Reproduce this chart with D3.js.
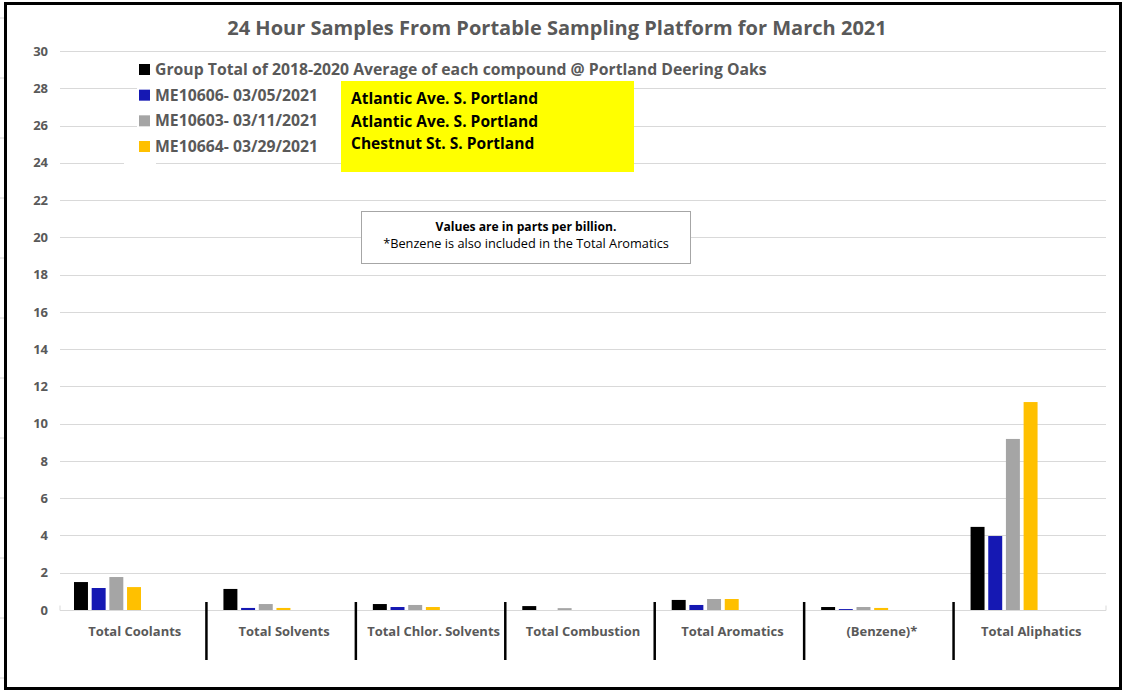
<!DOCTYPE html>
<html>
<head>
<meta charset="utf-8">
<script src="https://cdn.jsdelivr.net/npm/d3@7"></script>
<style>
  html, body { margin: 0; padding: 0; background: #fff; }
  svg { display: block; }
  text { font-family: "Liberation Sans Narrow", "Open Sans", sans-serif; }
</style>
</head>
<body>
<svg id="chart" width="1123" height="696"></svg>
<script>
// ---------- data ----------
const categories = ["Total Coolants", "Total Solvents", "Total Chlor. Solvents", "Total Combustion", "Total Aromatics", "(Benzene)*", "Total Aliphatics"];
const seriesNames = [
  "Group Total of 2018-2020 Average of each compound @ Portland Deering Oaks",
  "ME10606- 03/05/2021",
  "ME10603- 03/11/2021",
  "ME10664- 03/29/2021"
];
const groupAverage = [1.50, 1.13, 0.32, 0.21, 0.54, 0.16, 4.46];
const me10606 = [1.18, 0.11, 0.16, 0.00, 0.27, 0.05, 3.97];
const me10603 = [1.77, 0.32, 0.27, 0.10, 0.59, 0.16, 9.18];
const me10664 = [1.23, 0.11, 0.16, 0.00, 0.59, 0.11, 11.16];
const yTicks = [0, 2, 4, 6, 8, 10, 12, 14, 16, 18, 20, 22, 24, 26, 28, 30];
const siteLabels = ["Atlantic Ave. S. Portland", "Atlantic Ave. S. Portland", "Chestnut St. S. Portland"];
const noteLines = ["Values are in parts per billion.", "*Benzene is also included in the Total Aromatics"];
const titleText = "24 Hour Samples From Portable Sampling Platform for March 2021";
const colors = ["#000000", "#1518b3", "#a5a5a5", "#ffc000"];

const seriesValues = [groupAverage, me10606, me10603, me10664];

// ---------- layout ----------
const svg = d3.select("#chart");
const W = 1123, H = 696;
const plot = { left: 60, right: 1106, top: 51, bottom: 610 };
const textGray = "#595959";

function fit(sel, target) {
  sel.each(function () {
    const fs = parseFloat(d3.select(this).attr("font-size"));
    const w = this.getComputedTextLength();
    if (w > 0) d3.select(this).attr("font-size", (fs * target / w).toFixed(2));
  });
}

svg.append("rect").attr("x", 0).attr("y", 0).attr("width", W).attr("height", H).attr("fill", "#fff");
const cellYs = d3.range(18, 696, 60);
svg.selectAll("line.cell").data(cellYs).join("line")
  .attr("x1", 0).attr("x2", 4).attr("y1", d => d).attr("y2", d => d)
  .attr("stroke", "#d4d4d4").attr("stroke-width", 1);

// scales
const y = d3.scaleLinear().domain([0, 30]).range([plot.bottom, plot.top]);
const x0 = d3.scaleBand().domain(categories).range([plot.left, plot.right]).padding(0);
const x1 = d3.scaleBand().domain(seriesNames).range([14, 81]).paddingInner(0.21).paddingOuter(0);

// gridlines
svg.append("g").selectAll("line").data(yTicks.filter(d => d > 0)).join("line")
  .attr("x1", plot.left).attr("x2", plot.right)
  .attr("y1", d => Math.round(y(d)) + 0.5).attr("y2", d => Math.round(y(d)) + 0.5)
  .attr("stroke", "#d9d9d9").attr("stroke-width", 1);

// y-axis labels
const yAxis = d3.axisLeft(y).tickValues(yTicks).tickSize(0).tickPadding(0);
const yg = svg.append("g").attr("transform", `translate(${plot.left - 12},0)`).call(yAxis);
yg.select(".domain").remove();
yg.selectAll("text")
  .attr("fill", textGray).attr("font-weight", "bold").attr("font-size", 13)
  .style("font-family", "'Liberation Sans Narrow', 'Open Sans', sans-serif");

// bars
const groups = svg.append("g").selectAll("g").data(categories).join("g")
  .attr("transform", d => `translate(${x0(d)},0)`);
groups.selectAll("rect").data((c, i) => seriesValues.map((vals, s) => ({ s, name: seriesNames[s], v: vals[i] })))
  .join("rect")
  .attr("x", d => x1(d.name))
  .attr("width", x1.bandwidth())
  .attr("y", d => y(d.v))
  .attr("height", d => y(0) - y(d.v))
  .attr("fill", d => colors[d.s]);

// category axis
const xAxis = d3.axisBottom(x0).tickSize(0).tickFormat("");
const xg = svg.append("g").attr("transform", `translate(0,${plot.bottom + 0.5})`).call(xAxis);
xg.select(".domain").attr("stroke", "#d9d9d9").attr("d", `M${plot.left},-5V0H${plot.right}V-5`);
xg.selectAll(".tick").remove();

// category labels
const catText = svg.append("g").selectAll("text").data(categories).join("text")
  .attr("x", d => x0(d) + x0.bandwidth() / 2)
  .attr("y", 636)
  .attr("text-anchor", "middle")
  .attr("fill", textGray).attr("font-weight", "bold").attr("font-size", 13)
  .text(d => d);
(function () {
  const ref = catText.filter(d => d === "Total Chlor. Solvents").node();
  const fs = 13 * 133 / ref.getComputedTextLength();
  catText.attr("font-size", fs.toFixed(2));
})();

// separators
svg.append("g").selectAll("line").data(categories.slice(1)).join("line")
  .attr("x1", d => x0(d) - 3).attr("x2", d => x0(d) - 3)
  .attr("y1", 602).attr("y2", 660)
  .attr("stroke", "#000").attr("stroke-width", 2.5);

// title
const title = svg.append("text")
  .attr("x", 557).attr("y", 35).attr("text-anchor", "middle")
  .attr("fill", textGray).attr("font-weight", "bold").attr("font-size", 20)
  .text(titleText);
fit(title, 660);

// legend background
svg.append("rect").attr("x", 137).attr("y", 56).attr("width", 204).attr("height", 100).attr("fill", "#fff");
svg.append("rect").attr("x", 124).attr("y", 156).attr("width", 32).attr("height", 12).attr("fill", "#fff");

// legend
const legY = d3.scalePoint().domain(seriesNames).range([69, 146]);
const leg = svg.append("g").selectAll("g").data(seriesNames).join("g")
  .attr("transform", d => `translate(139,${legY(d)})`);
leg.append("rect").attr("x", 0).attr("y", -5).attr("width", 11).attr("height", 11)
  .attr("fill", (d, i) => colors[i]);
const legText = leg.append("text").attr("x", 16).attr("y", 6)
  .attr("fill", textGray).attr("font-weight", "bold").attr("font-size", 15)
  .text(d => d);
(function () {
  const first = legText.filter((d, i) => i === 0).node();
  const fs = 15 * 612 / first.getComputedTextLength();
  legText.attr("font-size", fs.toFixed(2));
})();

// yellow site box
svg.append("rect").attr("x", 341).attr("y", 81).attr("width", 293).attr("height", 91).attr("fill", "#ffff00");
const siteText = svg.append("g").selectAll("text").data(siteLabels).join("text")
  .attr("x", 351).attr("y", (d, i) => 104 + i * 22.5)
  .attr("fill", "#000").attr("font-weight", "bold").attr("font-size", 16)
  .text(d => d);
(function () {
  const first = siteText.filter((d, i) => i === 0).node();
  const fs = 16 * 187 / first.getComputedTextLength();
  siteText.attr("font-size", fs.toFixed(2));
})();

// note box
svg.append("rect").attr("x", 361.5).attr("y", 211.5).attr("width", 329).attr("height", 52)
  .attr("fill", "#fff").attr("stroke", "#a6a6a6").attr("stroke-width", 1);
const n1 = svg.append("text").attr("x", 526).attr("y", 231).attr("text-anchor", "middle")
  .attr("fill", "#000").attr("font-weight", "bold").attr("font-size", 12).text(noteLines[0]);
fit(n1, 181);
const n2 = svg.append("text").attr("x", 526).attr("y", 248).attr("text-anchor", "middle")
  .attr("fill", "#000").attr("font-size", 12).text(noteLines[1]);
fit(n2, 286);

// outer chart border
svg.append("rect").attr("x", 5.5).attr("y", 3.5).attr("width", 1115).attr("height", 685)
  .attr("fill", "none").attr("stroke", "#000").attr("stroke-width", 3);
</script>
</body>
</html>
